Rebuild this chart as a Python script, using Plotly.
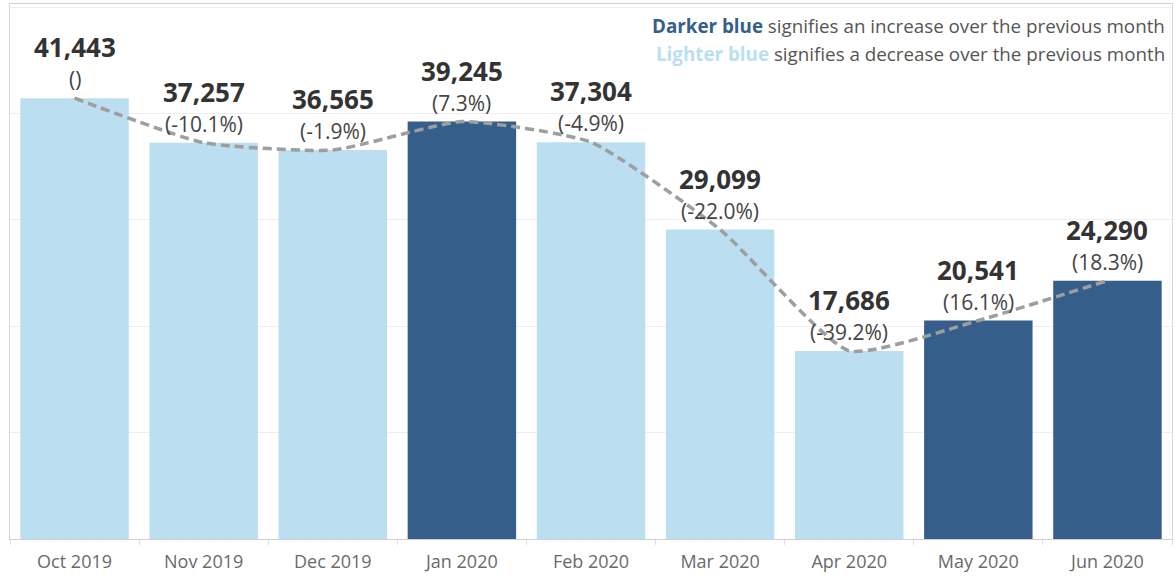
import plotly.graph_objects as go

months = ["Oct 2019", "Nov 2019", "Dec 2019", "Jan 2020", "Feb 2020",
          "Mar 2020", "Apr 2020", "May 2020", "Jun 2020"]
values = [41443, 37257, 36565, 39245, 37304, 29099, 17686, 20541, 24290]
pct_labels = ["()", "(-10.1%)", "(-1.9%)", "(7.3%)", "(-4.9%)",
              "(-22.0%)", "(-39.2%)", "(16.1%)", "(18.3%)"]

DARK = "#355f8a"
LIGHT = "#bcdef1"
colors = [LIGHT] + [DARK if values[i] > values[i - 1] else LIGHT
                    for i in range(1, len(values))]

FONT = "Open Sans"

fig = go.Figure()
fig.add_trace(go.Bar(x=months, y=values, marker=dict(color=colors, line=dict(width=0)),
                     hoverinfo="x+y"))
fig.add_trace(go.Scatter(x=months, y=values, mode="lines",
                         line=dict(color="#9e9e9e", width=3.5, dash="9px,5px",
                                   shape="spline", smoothing=0.5),
                         hoverinfo="skip"))

for m, v, p in zip(months, values, pct_labels):
    fig.add_annotation(x=m, y=v, text=f"<b>{v:,}</b>", showarrow=False,
                       yanchor="middle", yshift=51,
                       font=dict(family=FONT, size=26, color="#333333"))
    fig.add_annotation(x=m, y=v, text=p, showarrow=False,
                       yanchor="middle", yshift=19,
                       font=dict(family=FONT, size=21, color="#444444"))

fig.add_annotation(xref="paper", yref="paper", x=0.996, y=0.958, xanchor="right",
                   yanchor="middle", showarrow=False, align="right",
                   text=f"<b><span style='color:{DARK}'>Darker blue</span></b> signifies an increase over the previous month",
                   font=dict(family=FONT, size=18.8, color="#555555"))
fig.add_annotation(xref="paper", yref="paper", x=0.996, y=0.906, xanchor="right",
                   yanchor="middle", showarrow=False, align="right",
                   text=f"<b><span style='color:{LIGHT}'>Lighter blue</span></b> signifies a decrease over the previous month",
                   font=dict(family=FONT, size=18.8, color="#555555"))

fig.update_layout(
    width=1175, height=576,
    margin=dict(l=10, r=3, t=4, b=37),
    paper_bgcolor="white", plot_bgcolor="white",
    showlegend=False, bargap=0.16,
    font=dict(family=FONT),
    xaxis=dict(showgrid=False, showline=True, linecolor="#d0d0d0", linewidth=1,
               mirror=True, ticks="outside", tickson="boundaries", ticklen=5,
               tickcolor="#e0e0e0", ticklabelstandoff=6,
               tickfont=dict(family=FONT, size=18, color="#6a6a6a"),
               fixedrange=True),
    yaxis=dict(range=[0, 50300], showgrid=True, gridcolor="#eeeeee", gridwidth=1,
               dtick=10000, showticklabels=False, showline=True, linecolor="#d8d8d8",
               mirror=True, zeroline=False, ticks="", fixedrange=True),
)

fig.write_html("out.html", config={"displayModeBar": False},
               post_script="document.body.style.margin='0';document.body.style.padding='0';")
